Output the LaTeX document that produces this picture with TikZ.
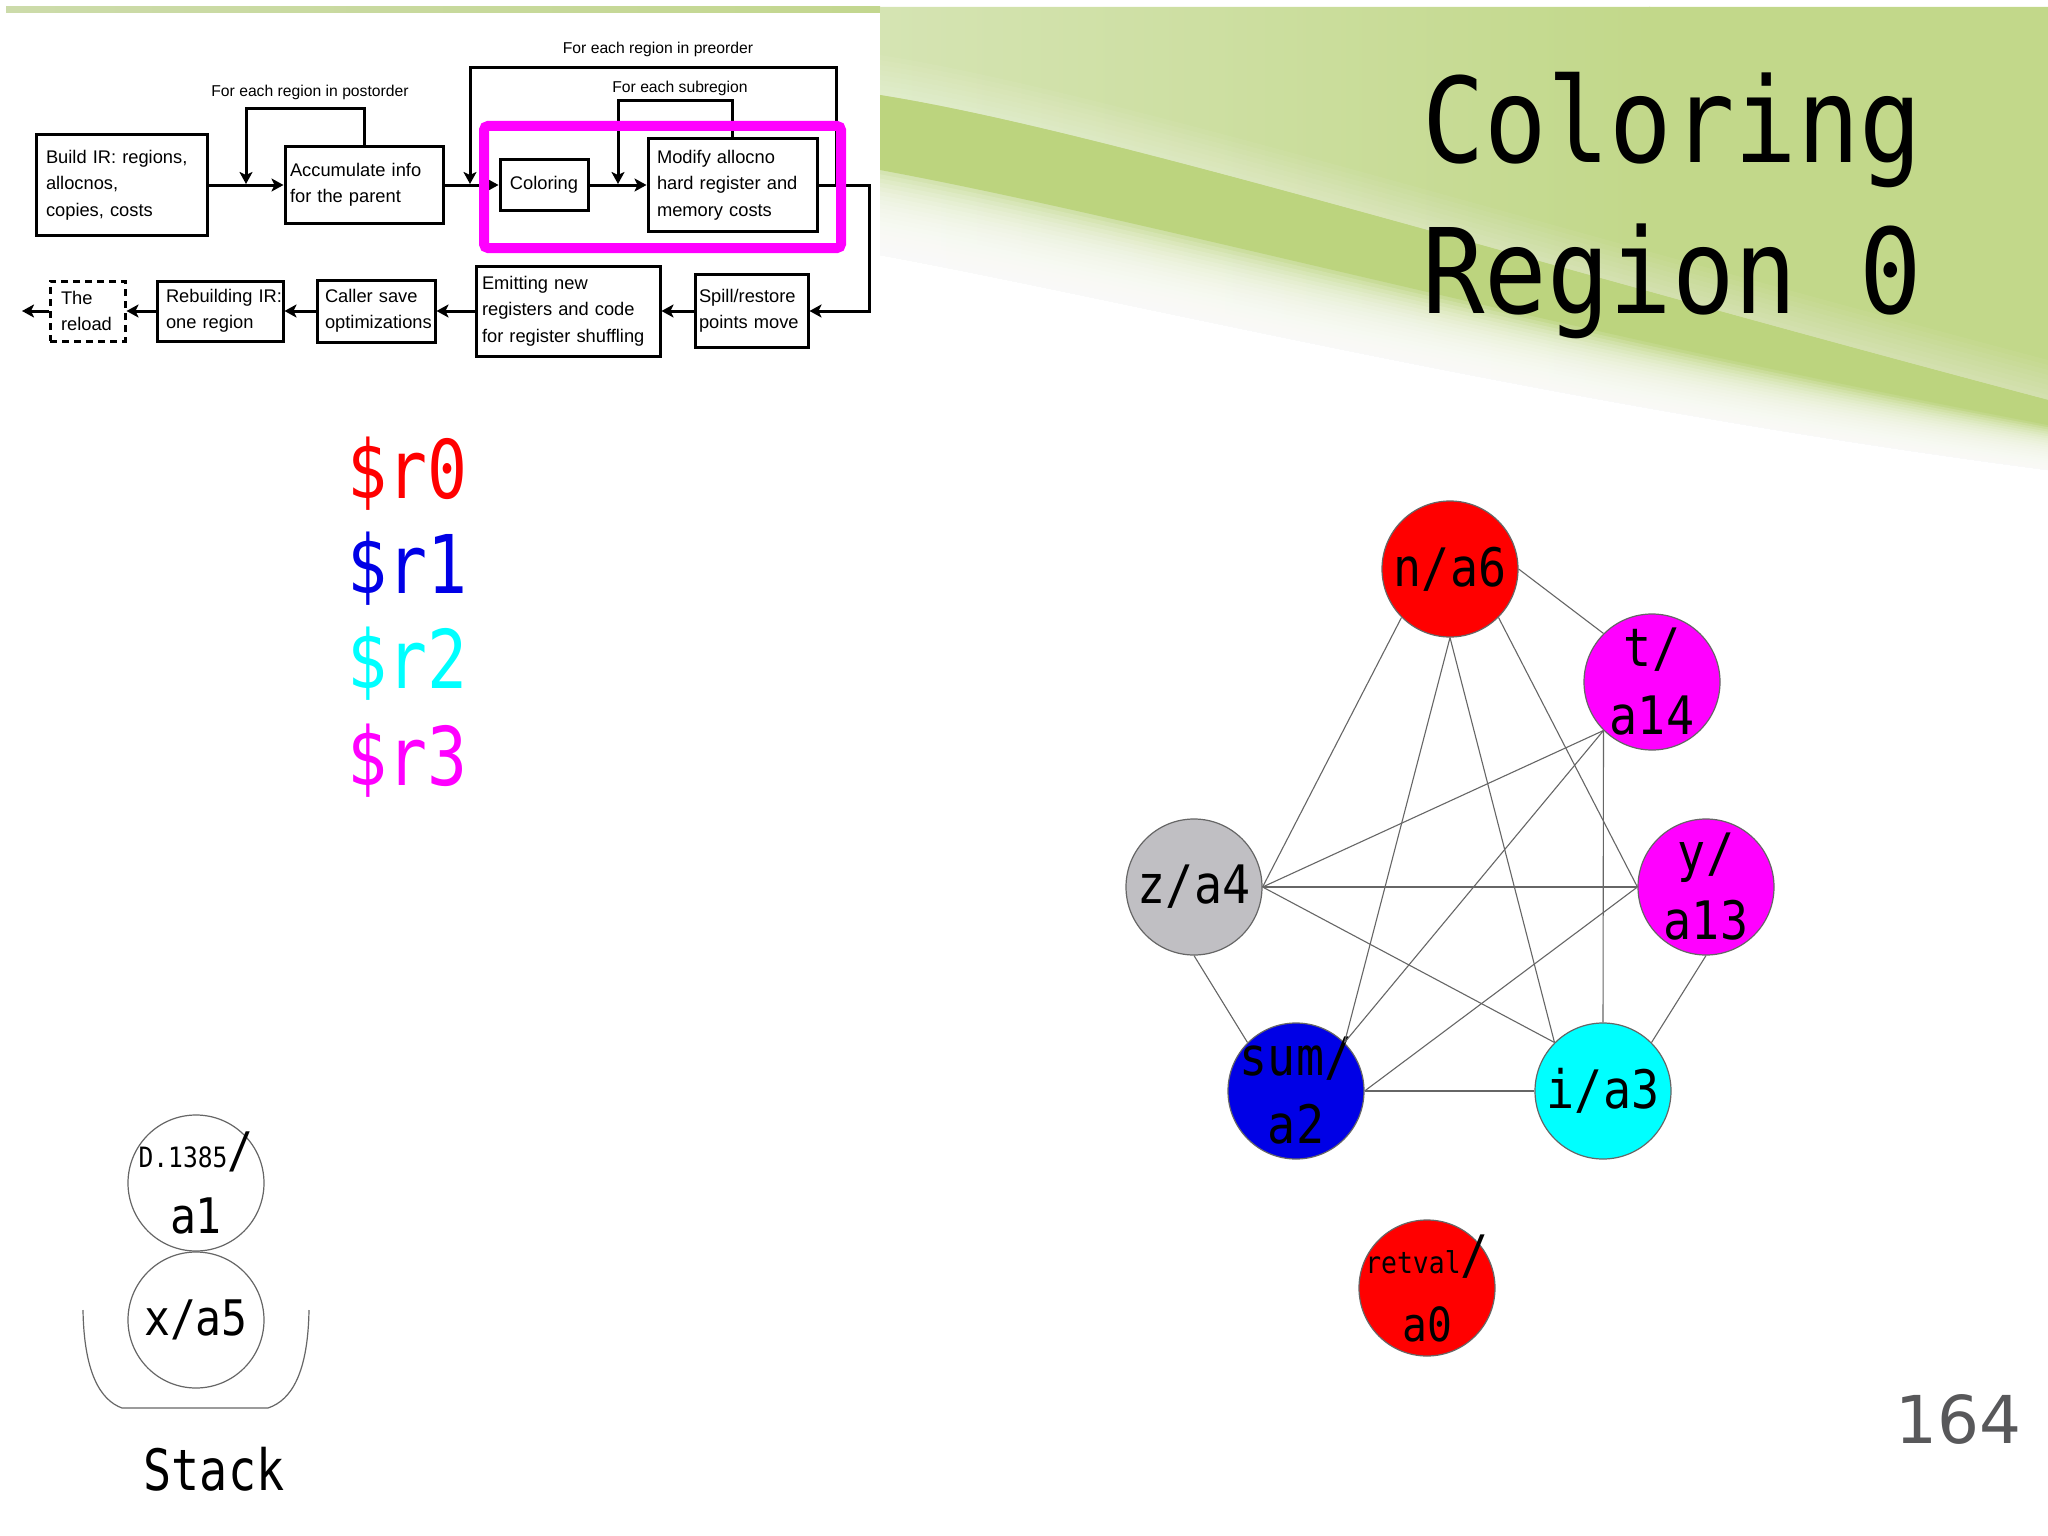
\documentclass[tikz,border=0pt]{standalone}
\usepackage{fontspec}
\usetikzlibrary{arrows.meta,calc}
\newfontfamily\helv{Liberation Sans}
\newfontfamily\monof[FakeStretch=0.88]{DejaVu Sans Mono}
\newfontfamily\monon[FakeStretch=0.82]{DejaVu Sans Mono}
\newfontfamily\dvsans{DejaVu Sans}
\definecolor{gbase}{HTML}{C2D88A}
\definecolor{glight}{HTML}{D5E4B3}
\definecolor{gband}{HTML}{BCD47E}
\definecolor{gtopa}{HTML}{CCDBAA}
\definecolor{gtopb}{HTML}{C3D78F}
\definecolor{mag}{HTML}{FF00FF}
\definecolor{regred}{HTML}{FF0000}
\definecolor{regblue}{HTML}{0000E6}
\definecolor{regcyan}{HTML}{00FFFF}
\definecolor{reggray}{HTML}{C0BFC3}
\definecolor{edgegray}{HTML}{666666}
\definecolor{pagegray}{HTML}{58585A}
\hyphenpenalty=10000
\exhyphenpenalty=10000
\newcommand\fcfont{\helv\fontsize{18.3pt}{26.5pt}\selectfont}
\newcommand\flfont{\helv\fontsize{15.7pt}{18pt}\selectfont}
\begin{document}
\begin{tikzpicture}[x=1pt,y=-1pt,
  fbox/.style={draw=black, line width=3pt, align=left, inner ysep=0pt, font=\fcfont},
  farrow/.style={line width=3pt, -{Stealth[length=12pt,width=13pt,inset=3pt]}},
  flab/.style={inner sep=0pt, font=\flfont},
  gnode/.style={circle, draw=edgegray, line width=1.2pt, minimum size=136pt, inner sep=0pt},
  glab/.style={inner sep=0pt, align=center, font=\monof\fontsize{53pt}{68pt}\selectfont},
  slab/.style={inner sep=0pt, align=center, font=\monof\fontsize{49pt}{66pt}\selectfont},
  gedge/.style={draw=edgegray, line width=1.1pt},
  regtxt/.style={anchor=base west, inner sep=0pt, font=\monon\fontsize{81pt}{81pt}\selectfont},
  ttl/.style={anchor=base west, inner sep=0pt, font=\monof\fontsize{118pt}{118pt}\selectfont}
]
\useasboundingbox (0,0) rectangle (2048,1536);
% ---------- background ----------
\fill[white] (0,0) rectangle (2048,1536);
\shade[left color=gtopa, right color=gtopb] (6,7) rectangle (880,13);
\begin{scope}
  \clip (880,7) -- (2048,7) -- (2048,470) .. controls (1550,405) and (1150,305) .. (880,255) -- cycle;
  \shade[left color=glight, right color=gbase] (880,0) rectangle (1650,520);
  \fill[gbase] (1649,0) rectangle (2048,520);
\end{scope}
\foreach \k in {1,...,8}{
  \fill[white, opacity=0.05] (880,95-5*\k) .. controls (1100,130-5*\k) and (1500,255-5*\k) .. (2048,400-5*\k) -- (2048,400) .. controls (1500,255) and (1100,130) .. (880,95) -- cycle;
}
\fill[gband] (880,95) .. controls (1100,130) and (1500,255) .. (2048,400) -- (2048,425) .. controls (1550,330) and (1150,220) .. (880,170) -- cycle;
\foreach \k in {1,...,20}{
  \pgfmathsetmacro\tt{\k/20}
  \fill[white, opacity=0.15] (880,170+85*\tt) .. controls (1150,220+85*\tt) and (1550,330+75*\tt) .. (2048,425+45*\tt) -- (2048,560) -- (880,560) -- cycle;
}
% ---------- flowchart ----------
\node[fbox, minimum width=171pt, minimum height=100pt, inner xsep=10pt, text width=151pt] (build) at (121.5,185) {Build~IR:~regions,\\allocnos,\\copies,~costs};
\node[fbox, minimum width=158pt, minimum height=76pt, inner xsep=5pt, text width=148pt] (acc) at (364,185) {Accumulate~info\\for~the~parent};
\node[fbox, minimum width=88pt, minimum height=50pt, inner xsep=2pt, align=center] (col) at (544,185) {Coloring};
\node[fbox, minimum width=169pt, minimum height=93pt, inner xsep=9pt, text width=151pt] (mod) at (732.5,185) {Modify~allocno\\hard~register~and\\memory~costs};
\node[fbox, minimum width=113pt, minimum height=73pt, inner xsep=4pt, text width=105pt] (spill) at (751.5,311) {Spill/restore\\points~move};
\node[fbox, minimum width=184pt, minimum height=90pt, inner xsep=6pt, text width=172pt] (emit) at (568,311) {Emitting~new\\registers~and~code\\for~register~shuffling};
\node[fbox, minimum width=118pt, minimum height=62pt, inner xsep=8pt, text width=102pt] (caller) at (376,311) {Caller~save\\optimizations};
\node[fbox, minimum width=126pt, minimum height=60pt, inner xsep=9pt, text width=108pt] (rebuild) at (220,311) {Rebuilding~IR:\\one~region};
\node[fbox, dash pattern=on 7pt off 5pt, minimum width=75pt, minimum height=60pt, inner xsep=11pt, text width=53pt] (reload) at (87.5,311) {The\\reload};
\coordinate (postA) at (246,184);
\coordinate (subA) at (618,184);
\coordinate (preA) at (470,184);
\coordinate (preB) at (836,185);
\coordinate (outL) at (22,311);
\draw[farrow] (build) -- (acc);
\draw[farrow] (acc) -- (col);
\draw[farrow] (col) -- (mod);
\draw[farrow] (acc.north) -- ++(0,-37) -| (postA);
\draw[farrow] (mod.north) -- ++(0,-36) -| (subA);
\draw[farrow] (preB) -- ++(0,-117) -| (preA);
\draw[farrow] (mod.east) -- ++(51,0) |- (spill.east);
\draw[farrow] (spill) -- (emit);
\draw[farrow] (emit) -- (caller);
\draw[farrow] (caller) -- (rebuild);
\draw[farrow] (rebuild) -- (reload);
\draw[farrow] (reload) -- (outL);
\node[draw=mag, line width=10pt, rounded corners=4pt, minimum width=357pt, minimum height=122pt, inner sep=0pt] (hl) at (662.5,187) {};
\node[flab] (lpost) at (310,92) {For each region in postorder};
\node[flab] (lsub) at (680,88) {For each subregion};
\node[flab] (lpre) at (658,49) {For each region in preorder};
% ---------- title ----------
\node[ttl] (t1) at (1422,163) {Coloring};
\node[ttl] (t2) at (1422,313) {Region 0};
% ---------- registers ----------
\node[regtxt, text=regred] (r0) at (347,498) {\$r0};
\node[regtxt, text=regblue] (r1) at (347,593) {\$r1};
\node[regtxt, text=regcyan] (r2) at (347,688) {\$r2};
\node[regtxt, text=mag] (r3) at (347,785) {\$r3};
% ---------- interference graph ----------
\node[gnode, fill=regred, label={[glab]center:n/a6}] (n) at (1450,569) {};
\node[gnode, fill=mag, label={[glab]center:{t/\\a14}}] (t) at (1652,682) {};
\node[gnode, fill=mag, label={[glab]center:{y/\\a13}}] (y) at (1706,887) {};
\node[gnode, fill=reggray, label={[glab]center:z/a4}] (z) at (1194,887) {};
\node[gnode, fill=regblue, label={[glab]center:{sum/\\a2}}] (s) at (1296,1091) {};
\node[gnode, fill=regcyan, label={[glab]center:i/a3}] (i) at (1603,1091) {};
\node[gnode, fill=regred, label={[glab]center:{{\fontsize{30pt}{30pt}\selectfont retval}/\\{\fontsize{47pt}{60pt}\selectfont a0}}}] (r) at (1427,1288) {};
\draw[gedge] (n.east) -- (t.north west);
\draw[gedge] (n.south west) -- (z.east);
\draw[gedge] (n.south) -- (s.north east);
\draw[gedge] (n.south) -- (i.north west);
\draw[gedge] (n.south east) -- (y.west);
\draw[gedge] (t.south west) -- (z.east);
\draw[gedge] (t.south west) -- (s.north east);
\draw[gedge] (t.south west) -- (i.north);
\draw[gedge] (z.east) -- (y.west);
\draw[gedge] (z.east) -- (i.north west);
\draw[gedge] (z.south) -- (s.north west);
\draw[gedge] (y.west) -- (s.east);
\draw[gedge] (y.south) -- (i.north east);
\draw[gedge] (s.east) -- (i.west);
% ---------- stack ----------
\draw[edgegray, line width=1.2pt] (83,1310) .. controls (84,1372) and (100,1400) .. (122,1408) -- (268,1408) .. controls (292,1400) and (308,1372) .. (309,1310);
\node[gnode, fill=white, label={[slab]center:{{\fontsize{28pt}{28pt}\selectfont D.1385}/\\a1}}] (d) at (196,1183) {};
\node[gnode, fill=white, label={[slab]center:x/a5}] (x) at (196,1320) {};
\node[anchor=base, inner sep=0pt, font=\monon\fontsize{57pt}{57pt}\selectfont] (stk) at (214,1490) {Stack};
% ---------- page number ----------
\node[anchor=base east, inner sep=0pt, text=pagegray, font=\dvsans\fontsize{66pt}{66pt}\selectfont] (pg) at (2022,1443) {164};
\end{tikzpicture}
\end{document}
